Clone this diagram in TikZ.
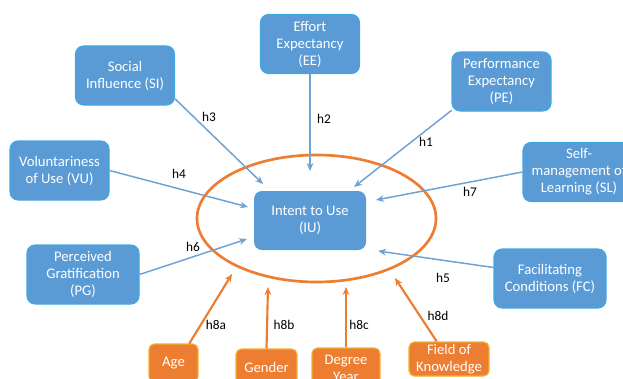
\documentclass[tikz,border=0pt]{standalone}
\usepackage{fontspec}
\setmainfont{Carlito}
\usetikzlibrary{arrows.meta}
\definecolor{bfill}{HTML}{5B9BD5}
\definecolor{bdraw}{HTML}{41A8E0}
\definecolor{ofill}{HTML}{ED7D31}
\definecolor{odraw}{HTML}{F2B134}
\definecolor{barrow}{HTML}{6FA2D4}
\tikzset{
  bbox/.style={draw=bdraw, line width=0.8pt, fill=bfill, rounded corners=6pt, text=white, align=center,
    minimum width=#1*0.75pt, minimum height=44.25pt, inner sep=0pt, font=\fontsize{11}{12.75}\selectfont},
  bbox/.default=99,
  obox/.style={draw=odraw, line width=0.8pt, fill=ofill, rounded corners=4pt, text=white, align=center,
    inner sep=0pt, font=\fontsize{11}{12.75}\selectfont},
  barr/.style={draw=barrow, line width=1.1pt, -{Stealth[length=6pt,width=5pt]}},
  oarr/.style={draw=ofill, line width=1.6pt, -{Stealth[length=6pt,width=5pt]}},
  hlab/.style={text=black, font=\fontsize{10}{11}\selectfont, inner sep=0pt}
}
\begin{document}
\begin{tikzpicture}[x=0.75pt,y=-0.75pt]
\useasboundingbox (0,0) rectangle (623,378);
\clip (0,0) rectangle (623,378);
\fill[white] (0,0) rectangle (623,378);
% ellipse
\draw[ofill, line width=2pt] (316.5,218.5) ellipse [x radius=119.5, y radius=63.5];
% blue boxes
\node[bbox] (SI) at (125,75.5) {Social\\Influence (SI)};
\node[bbox] (EE) at (310,44) {Effort\\Expectancy\\(EE)};
\node[bbox] (PE) at (501.5,81.5) {Performance\\Expectancy\\(PE)};
\node[bbox=112] (SL) at (579,172) {Self-\\management of\\Learning (SL)};
\node[bbox] (VU) at (59.5,170.5) {Voluntariness\\of Use (VU)};
\node[bbox=112, draw=none] (IU) at (310,220.5) {Intent to Use\\(IU)};
\node[bbox=112] (PG) at (83,274.5) {Perceived\\Gratification\\(PG)};
\node[bbox=112] (FC) at (550,278.5) {Facilitating\\Conditions (FC)};
% orange boxes
\node[obox, minimum width=36.75pt, minimum height=28.5pt] (Age) at (173.5,363) {Age};
\node[obox, minimum width=45.75pt, minimum height=27pt] (Gen) at (266.5,367) {Gender};
\node[obox, minimum width=51pt, minimum height=30pt] (Deg) at (346,368) {Degree\\Year};
\node[obox, minimum width=60pt, minimum height=25.5pt] (FK) at (449,359) {Field of\\Knowledge};
% end points
\coordinate (e1) at (354,187);
\coordinate (e2) at (310,171);
\coordinate (e3) at (263,184);
\coordinate (e4) at (248,207);
\coordinate (e6) at (247,239);
\coordinate (e7) at (376,200);
\coordinate (e5) at (378,251);
\coordinate (e8a) at (232,274);
\coordinate (e8b) at (268,287);
\coordinate (e8c) at (346,287);
\coordinate (e8d) at (395,278);
% blue arrows
\draw[barr] (PE.210) -- (e1);
\draw[barr] (EE.south) -- (e2);
\draw[barr] (SI.-25) -- (e3);
\draw[barr] (VU.east) -- (e4);
\draw[barr] (PG.east) -- (e6);
\draw[barr] (SL.west) -- (e7);
\draw[barr] (FC.169) -- (e5);
% orange arrows
\draw[oarr] (Age.51) -- (e8a);
\draw[oarr] (Gen.north) -- (e8b);
\draw[oarr] (Deg.north) -- (e8c);
\draw[oarr] (FK.125) -- (e8d);
% labels
\node[hlab] (l1) at (426,142) {h1};
\node[hlab] (l2) at (324,119) {h2};
\node[hlab] (l3) at (209,117) {h3};
\node[hlab] (l4) at (179,174) {h4};
\node[hlab] (l6) at (193,247) {h6};
\node[hlab] (l7) at (470,192) {h7};
\node[hlab] (l5) at (443,278) {h5};
\node[hlab] (l8a) at (216,325) {h8a};
\node[hlab] (l8b) at (284,325) {h8b};
\node[hlab] (l8c) at (359,325) {h8c};
\node[hlab] (l8d) at (438,316) {h8d};
\end{tikzpicture}
\end{document}
